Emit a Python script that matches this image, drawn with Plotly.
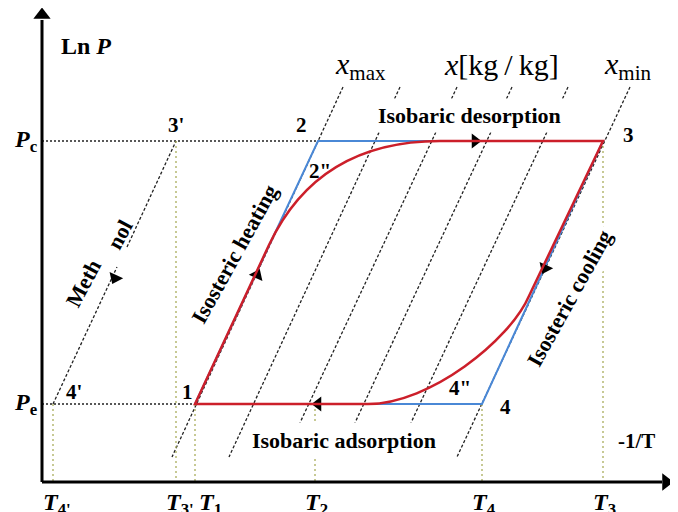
import plotly.graph_objects as go

# ---------------- data (diagram units: x = -1/T to the right, y = ln P, screen-like, axis reversed) ----
state_lbl = ["1", "2", "3", "4"]
state_x = [195, 318, 603, 482]
state_y = [404, 141, 141, 404]

# pressure levels Pc / Pe
p_level_y = [141, 404]
p_level_end_x = [318, 195]
p_level_lbl = ["<b><i>P</i><sub>c</sub></b>", "<b><i>P</i><sub>e</sub></b>"]

# temperature marks
t_x = [53, 176, 195, 315, 482, 603]
t_from_y = [404, 141, 404, 404, 404, 141]
t_sub = ["4'", "3'", "1", "2", "4", "3"]

# isosteres (x = const lines)
iso_top_x = [343, 400, 457, 512, 568, 630]
iso_bot_x = [172, 229, 284, 339, 395, 457]
iso_top_y = 87
iso_bot_y = 457

# methanol saturation line 4' -> 3'
meoh_x = [53, 117, None, 127, 176]
meoh_y = [404, 267, None, 247, 141]

# real cycle (red) control points
heat_bend = (269, 245)
heat_ctrl = (318, 141)
heat_join = (440, 141)
cool_bend = (529, 296)
cool_c1 = (510, 340)
cool_c2 = (430, 404)
cool_join = (368, 404)

# flow arrows on the curves
arr_x = [257, 475, 545, 318, 115]
arr_y = [275, 141, 268, 404, 278]
arr_dir = [25, 90, 205, 270, 205]

# axes ends
axis_origin = (42, 482)
axis_x_end = 662
axis_y_end = 20

SERIF = "Liberation Serif, Times New Roman, serif"
RED = "#cc1f2a"
BLUE = "#4a88d6"
OLIVE = "#a9ad5c"

# the page body has an 8 px margin; the view window covers diagram units 8..678 / 8..512
PAGE_OFF = 8
VIEW_W, VIEW_H = 678, 512

fig = go.Figure()

# isosteres (dashed black)
ix, iy = [], []
for a, b in zip(iso_top_x, iso_bot_x):
    ix += [a, b, None]
    iy += [iso_top_y, iso_bot_y, None]
fig.add_trace(go.Scatter(x=ix, y=iy, mode="lines",
                         line=dict(color="#222", width=1.3, dash="3px,2px"), hoverinfo="skip"))

# methanol line
fig.add_trace(go.Scatter(x=meoh_x, y=meoh_y, mode="lines",
                         line=dict(color="#222", width=1.3, dash="3px,2px"), hoverinfo="skip"))

# pressure level dotted lines
px, py = [], []
for yv, xe in zip(p_level_y, p_level_end_x):
    px += [axis_origin[0], xe, None]
    py += [yv, yv, None]
fig.add_trace(go.Scatter(x=px, y=py, mode="lines",
                         line=dict(color="#222", width=1.3, dash="2px,2px"), hoverinfo="skip"))

# temperature dotted verticals
tx, ty = [], []
for xv, y0 in zip(t_x, t_from_y):
    tx += [xv, xv, None]
    ty += [y0, axis_origin[1], None]
fig.add_trace(go.Scatter(x=tx, y=ty, mode="lines",
                         line=dict(color=OLIVE, width=1.3, dash="2px,3px"), hoverinfo="skip"))

# ideal cycle (blue)
fig.add_trace(go.Scatter(x=state_x + [state_x[0]], y=state_y + [state_y[0]], mode="lines",
                         line=dict(color=BLUE, width=2), hoverinfo="skip"))

# axes
fig.add_trace(go.Scatter(x=[axis_origin[0], axis_origin[0], None, axis_origin[0], axis_x_end],
                         y=[axis_y_end, axis_origin[1], None, axis_origin[1], axis_origin[1]],
                         mode="lines", line=dict(color="black", width=3), hoverinfo="skip"))
fig.add_trace(go.Scatter(x=[axis_origin[0], axis_x_end + 4], y=[axis_y_end - 5, axis_origin[1]],
                         mode="markers",
                         marker=dict(symbol="triangle-up", size=15, color="black", angle=[0, 90]),
                         hoverinfo="skip"))

# real cycle (red) as a path through the library's data scales
s1x, s1y = state_x[0], state_y[0]
s3x, s3y = state_x[2], state_y[2]
path = (f"M {s1x},{s1y} L {heat_bend[0]},{heat_bend[1]} "
        f"Q {heat_ctrl[0]},{heat_ctrl[1]} {heat_join[0]},{heat_join[1]} "
        f"L {s3x},{s3y} L {cool_bend[0]},{cool_bend[1]} "
        f"C {cool_c1[0]},{cool_c1[1]} {cool_c2[0]},{cool_c2[1]} {cool_join[0]},{cool_join[1]} Z")
fig.add_shape(type="path", path=path, xref="x", yref="y",
              line=dict(color=RED, width=2.5), layer="above")

fig.add_trace(go.Scatter(x=arr_x, y=arr_y, mode="markers",
                         marker=dict(symbol="triangle-up", size=13, color="black", angle=arr_dir),
                         hoverinfo="skip"))


def txt(x, y, s, size=21, angle=0, bg=None, xanchor="center", yanchor="middle", pad=1):
    fig.add_annotation(x=x, y=y, text=s, showarrow=False, textangle=angle,
                       font=dict(family=SERIF, size=size, color="black"),
                       xanchor=xanchor, yanchor=yanchor,
                       bgcolor=bg, borderpad=pad)


# labels
txt(86, 46, "<b>Ln <i>P</i></b>", size=24)
for yv, lb in zip(p_level_y, p_level_lbl):
    txt(26, yv, lb, size=24)
txt(176, 125, "<b>3'</b>")
txt(301, 125, "<b>2</b>")
txt(628, 135, "<b>3</b>")
txt(187, 392, "<b>1</b>")
txt(74, 392, "<b>4'</b>")
txt(505, 407, "<b>4</b>")
txt(320, 171, "<b>2\"</b>")
txt(460, 388, "<b>4\"</b>")
txt(469, 115, "<b>Isobaric desorption</b>", size=22, bg="white", pad=4)
txt(344, 440, "<b>Isobaric adsorption</b>", size=22, bg="white", pad=5)
txt(234, 254, "<b>Isosteric heating</b>", size=22, angle=-61)
txt(569, 298, "<b>Isosteric cooling</b>", size=22, angle=-61, bg="white", pad=3)
txt(83, 283, "<b>Meth</b>", size=22, angle=-62)
txt(119, 235, "<b>nol</b>", size=22, angle=-62)
txt(636, 441, "<b>-1/T</b>", size=21)

txt(360, 66, "<i>x</i><sub>max</sub>", size=30)
txt(501, 64, "<i>x</i>[kg\u2009/\u2009kg]", size=30)
txt(627, 66, "<i>x</i><sub>min</sub>", size=30)

for xv, sb in zip(t_x, t_sub):
    off = 2 if sb == "1" else -12
    txt(xv + off, 487, f"<b><i>T</i><sub>{sb}</sub></b>", size=24, xanchor="left", yanchor="top")

fig.update_layout(
    width=VIEW_W - PAGE_OFF, height=VIEW_H - PAGE_OFF, margin=dict(l=0, r=0, t=0, b=0),
    paper_bgcolor="white", plot_bgcolor="white", showlegend=False,
    xaxis=dict(range=[PAGE_OFF, VIEW_W], visible=False, fixedrange=True),
    yaxis=dict(range=[VIEW_H, PAGE_OFF], visible=False, fixedrange=True),
)

fig.write_html("out.html")
